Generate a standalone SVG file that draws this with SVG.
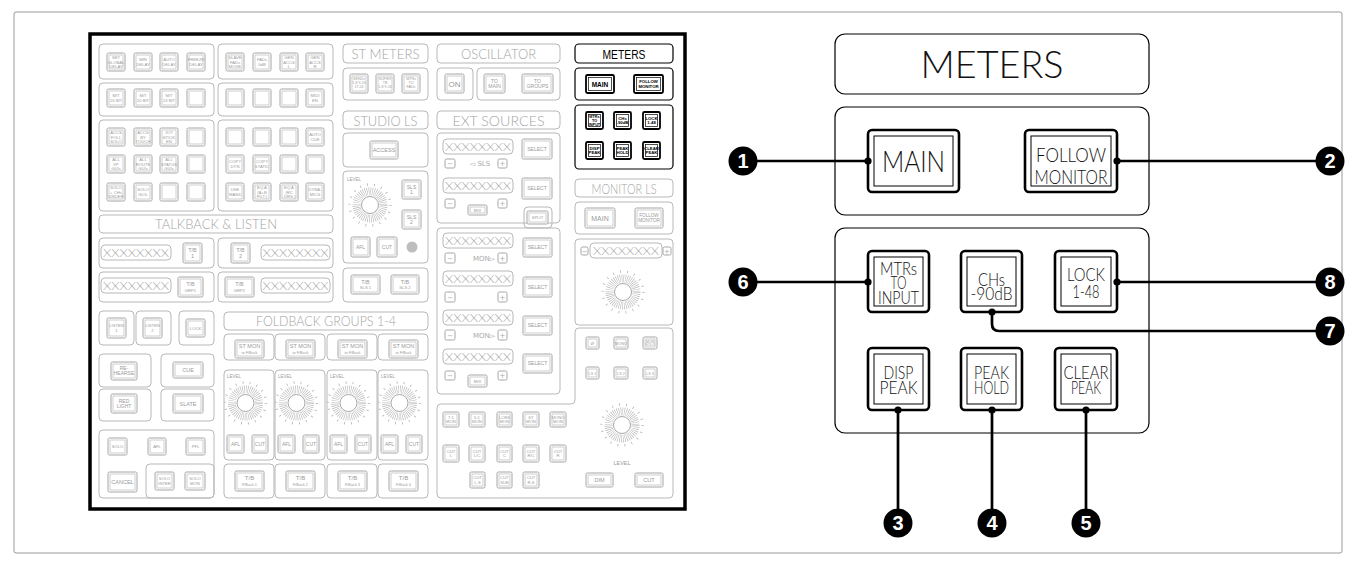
<svg xmlns="http://www.w3.org/2000/svg" width="1356" height="572" viewBox="0 0 1356 572">
<style>
.bx{fill:none;stroke:#b8b8b8;stroke-width:1;rx:4px}
.bo{fill:#fff;stroke:#a6a6a6;stroke-width:1;rx:1.5px}
.bi{fill:none;stroke:#c4c4c4;stroke-width:.8}
.t{font-family:"Liberation Sans",Arial,sans-serif;font-size:4.2px;fill:#9a9a9a;text-anchor:middle}
.tm{font-family:"Liberation Sans",Arial,sans-serif;font-size:5.5px;fill:#9a9a9a;text-anchor:middle}
.ttl{font-family:Lato,"Liberation Sans",Arial,sans-serif;font-weight:300;font-size:13.5px;fill:#a4a4a4;text-anchor:middle}
.disp{fill:#fff;stroke:#b8b8b8;stroke-width:1;rx:4px}
.xx{font-family:Lato,"Liberation Sans",Arial,sans-serif;font-weight:300;font-size:12.5px;fill:#a4a4a4;text-anchor:middle}
.sym{font-family:"DejaVu Sans","Liberation Sans",sans-serif;font-size:7px;fill:#aaa;text-anchor:middle}
.lv{font-family:"Liberation Sans",Arial,sans-serif;font-size:4.5px;fill:#a0a0a0}
.hb{fill:none;stroke:#000;stroke-width:1.2;rx:4px}
.ho{fill:#fff;stroke:#000;stroke-width:1.8;rx:1.5px}
.hi{fill:none;stroke:#000;stroke-width:.7}
.ht{font-family:"Liberation Sans",Arial,sans-serif;font-size:4.3px;fill:#000;text-anchor:middle;font-weight:bold}
.rb{fill:none;stroke:#000;stroke-width:1.2;rx:10px}
.ro{fill:#fff;stroke:#000;stroke-width:2.6;rx:4px}
.ri{fill:none;stroke:#000;stroke-width:1}
.rt{font-family:Lato,"Liberation Sans",Arial,sans-serif;font-weight:300;fill:#111;text-anchor:middle}
.ln{fill:none;stroke:#000;stroke-width:2.7}
.dot{fill:#000}
.bdg circle{fill:#000}
.bdg text{font-family:"Liberation Sans",Arial,sans-serif;font-weight:bold;font-size:20px;fill:#fff;text-anchor:middle}
</style>
<defs>
<g id="knob">
<circle r="20.5" fill="none" stroke="#b2b2b2" stroke-width="2.5" stroke-dasharray="0.8 6.36"/>
<circle r="13.5" fill="none" stroke="#b2b2b2" stroke-width="8" stroke-dasharray="0.55 1.22"/>
<circle r="8.5" fill="#fff" stroke="#a8a8a8" stroke-width="1"/>
</g>
</defs>
<rect x="14" y="12" width="1328" height="541" fill="#fff" stroke="#999" stroke-width="1" rx="2"/>

<g id="console-panel">
<rect x="90" y="34" width="595" height="475" fill="#fff" stroke="#000" stroke-width="3.5"/>

<g id="assign-section">
<rect class="bx" x="99" y="44" width="115" height="35"/><rect class="bx" x="218" y="44" width="115" height="35"/>
<rect class="bx" x="99" y="83" width="115" height="33"/><rect class="bx" x="218" y="83" width="115" height="33"/>
<rect class="bx" x="99" y="120" width="115" height="91"/><rect class="bx" x="218" y="120" width="115" height="91"/>
<rect class="bo" x="107" y="53" width="18" height="18"/><rect class="bi" x="109" y="55" width="14" height="14"/>
<rect class="bo" x="134" y="53" width="18" height="18"/><rect class="bi" x="136" y="55" width="14" height="14"/>
<rect class="bo" x="160" y="53" width="18" height="18"/><rect class="bi" x="162" y="55" width="14" height="14"/>
<rect class="bo" x="187" y="53" width="18" height="18"/><rect class="bi" x="189" y="55" width="14" height="14"/>
<rect class="bo" x="226" y="53" width="18" height="18"/><rect class="bi" x="228" y="55" width="14" height="14"/>
<rect class="bo" x="253" y="53" width="18" height="18"/><rect class="bi" x="255" y="55" width="14" height="14"/>
<rect class="bo" x="280" y="53" width="18" height="18"/><rect class="bi" x="282" y="55" width="14" height="14"/>
<rect class="bo" x="306" y="53" width="18" height="18"/><rect class="bi" x="308" y="55" width="14" height="14"/>
<text class="t" y="59"><tspan x="116">SET</tspan><tspan x="116" dy="4.5">GLOBAL</tspan><tspan x="116" dy="4.5">DELAY</tspan></text>
<text class="t" y="61.25"><tspan x="143">MIN</tspan><tspan x="143" dy="4.5">DELAY</tspan></text>
<text class="t" y="61.25"><tspan x="169">AUTO</tspan><tspan x="169" dy="4.5">DELAY</tspan></text>
<text class="t" y="61.25"><tspan x="196">FREEZE</tspan><tspan x="196" dy="4.5">DELAY</tspan></text>
<text class="t" y="59"><tspan x="235">SLAVE</tspan><tspan x="235" dy="4.5">FADs</tspan><tspan x="235" dy="4.5">MOVE</tspan></text>
<text class="t" y="61.25"><tspan x="262">FADs</tspan><tspan x="262" dy="4.5">0dB</tspan></text>
<text class="t" y="59"><tspan x="289">GEN</tspan><tspan x="289" dy="4.5">ACCS</tspan><tspan x="289" dy="4.5">L</tspan></text>
<text class="t" y="59"><tspan x="315">GEN</tspan><tspan x="315" dy="4.5">ACCS</tspan><tspan x="315" dy="4.5">R</tspan></text>
<rect class="bo" x="107" y="89" width="18" height="18"/><rect class="bi" x="109" y="91" width="14" height="14"/>
<rect class="bo" x="134" y="89" width="18" height="18"/><rect class="bi" x="136" y="91" width="14" height="14"/>
<rect class="bo" x="160" y="89" width="18" height="18"/><rect class="bi" x="162" y="91" width="14" height="14"/>
<rect class="bo" x="187" y="89" width="18" height="18"/><rect class="bi" x="189" y="91" width="14" height="14"/>
<rect class="bo" x="226" y="89" width="18" height="18"/><rect class="bi" x="228" y="91" width="14" height="14"/>
<rect class="bo" x="253" y="89" width="18" height="18"/><rect class="bi" x="255" y="91" width="14" height="14"/>
<rect class="bo" x="280" y="89" width="18" height="18"/><rect class="bi" x="282" y="91" width="14" height="14"/>
<rect class="bo" x="306" y="89" width="18" height="18"/><rect class="bi" x="308" y="91" width="14" height="14"/>
<text class="t" y="97.25"><tspan x="116">M/T</tspan><tspan x="116" dy="4.5">16 BIT</tspan></text>
<text class="t" y="97.25"><tspan x="143">M/T</tspan><tspan x="143" dy="4.5">20 BIT</tspan></text>
<text class="t" y="97.25"><tspan x="169">M/T</tspan><tspan x="169" dy="4.5">24 BIT</tspan></text>
<text class="t" y="97.25"><tspan x="315">MIDI</tspan><tspan x="315" dy="4.5">EN</tspan></text>
<rect class="bo" x="107" y="128" width="18" height="18"/><rect class="bi" x="109" y="130" width="14" height="14"/>
<rect class="bo" x="134" y="128" width="18" height="18"/><rect class="bi" x="136" y="130" width="14" height="14"/>
<rect class="bo" x="160" y="128" width="18" height="18"/><rect class="bi" x="162" y="130" width="14" height="14"/>
<rect class="bo" x="187" y="128" width="18" height="18"/><rect class="bi" x="189" y="130" width="14" height="14"/>
<rect class="bo" x="226" y="128" width="18" height="18"/><rect class="bi" x="228" y="130" width="14" height="14"/>
<rect class="bo" x="253" y="128" width="18" height="18"/><rect class="bi" x="255" y="130" width="14" height="14"/>
<rect class="bo" x="280" y="128" width="18" height="18"/><rect class="bi" x="282" y="130" width="14" height="14"/>
<rect class="bo" x="306" y="128" width="18" height="18"/><rect class="bi" x="308" y="130" width="14" height="14"/>
<text class="t" y="134"><tspan x="116">ACCS</tspan><tspan x="116" dy="4.5">FOLL</tspan><tspan x="116" dy="4.5">SOLO</tspan></text>
<text class="t" y="134"><tspan x="143">ACCS</tspan><tspan x="143" dy="4.5">BY</tspan><tspan x="143" dy="4.5">TOUCH</tspan></text>
<text class="t" y="134"><tspan x="169">JOY</tspan><tspan x="169" dy="4.5">STICK</tspan><tspan x="169" dy="4.5">EN</tspan></text>
<text class="t" y="136.25"><tspan x="315">AUTO</tspan><tspan x="315" dy="4.5">CUE</tspan></text>
<rect class="bo" x="107" y="155" width="18" height="18"/><rect class="bi" x="109" y="157" width="14" height="14"/>
<rect class="bo" x="134" y="155" width="18" height="18"/><rect class="bi" x="136" y="157" width="14" height="14"/>
<rect class="bo" x="160" y="155" width="18" height="18"/><rect class="bi" x="162" y="157" width="14" height="14"/>
<rect class="bo" x="187" y="155" width="18" height="18"/><rect class="bi" x="189" y="157" width="14" height="14"/>
<rect class="bo" x="226" y="155" width="18" height="18"/><rect class="bi" x="228" y="157" width="14" height="14"/>
<rect class="bo" x="253" y="155" width="18" height="18"/><rect class="bi" x="255" y="157" width="14" height="14"/>
<rect class="bo" x="280" y="155" width="18" height="18"/><rect class="bi" x="282" y="157" width="14" height="14"/>
<rect class="bo" x="306" y="155" width="18" height="18"/><rect class="bi" x="308" y="157" width="14" height="14"/>
<text class="t" y="161"><tspan x="116">ALL</tspan><tspan x="116" dy="4.5">I/P</tspan><tspan x="116" dy="4.5">GUIs</tspan></text>
<text class="t" y="161"><tspan x="143">ALL</tspan><tspan x="143" dy="4.5">ROUTE</tspan><tspan x="143" dy="4.5">GUIs</tspan></text>
<text class="t" y="161"><tspan x="169">ALL</tspan><tspan x="169" dy="4.5">STATUS</tspan><tspan x="169" dy="4.5">GUIs</tspan></text>
<text class="t" y="163.25"><tspan x="235">COPY</tspan><tspan x="235" dy="4.5">DYN</tspan></text>
<text class="t" y="163.25"><tspan x="262">COPY</tspan><tspan x="262" dy="4.5">STATIC</tspan></text>
<rect class="bo" x="107" y="183" width="18" height="18"/><rect class="bi" x="109" y="185" width="14" height="14"/>
<rect class="bo" x="134" y="183" width="18" height="18"/><rect class="bi" x="136" y="185" width="14" height="14"/>
<rect class="bo" x="160" y="183" width="18" height="18"/><rect class="bi" x="162" y="185" width="14" height="14"/>
<rect class="bo" x="187" y="183" width="18" height="18"/><rect class="bi" x="189" y="185" width="14" height="14"/>
<rect class="bo" x="226" y="183" width="18" height="18"/><rect class="bi" x="228" y="185" width="14" height="14"/>
<rect class="bo" x="253" y="183" width="18" height="18"/><rect class="bi" x="255" y="185" width="14" height="14"/>
<rect class="bo" x="280" y="183" width="18" height="18"/><rect class="bi" x="282" y="185" width="14" height="14"/>
<rect class="bo" x="306" y="183" width="18" height="18"/><rect class="bi" x="308" y="185" width="14" height="14"/>
<text class="t" y="189"><tspan x="116">SOLO</tspan><tspan x="116" dy="4.5">+ CHs</tspan><tspan x="116" dy="4.5">UNDER</tspan></text>
<text class="t" y="191.25"><tspan x="143">SOLO</tspan><tspan x="143" dy="4.5">ISOL</tspan></text>
<text class="t" y="191.25"><tspan x="235">USE</tspan><tspan x="235" dy="4.5">MASK</tspan></text>
<text class="t" y="189"><tspan x="262">EQ A</tspan><tspan x="262" dy="4.5">(A+B</tspan><tspan x="262" dy="4.5">FILT.)</tspan></text>
<text class="t" y="189"><tspan x="289">EQ A</tspan><tspan x="289" dy="4.5">(RC</tspan><tspan x="289" dy="4.5">-DRS.)</tspan></text>
<text class="t" y="191.25"><tspan x="315">DYNA-</tspan><tspan x="315" dy="4.5">MICS</tspan></text>
</g>

<g id="talkback-listen">
<rect class="bx" x="99" y="215" width="234" height="18"/>
<text class="ttl" x="216" y="229" textLength="122" lengthAdjust="spacingAndGlyphs">TALKBACK &amp; LISTEN</text>
<rect class="bx" x="99" y="238" width="115" height="30"/><rect class="bx" x="218" y="238" width="115" height="30"/>
<rect class="bx" x="99" y="272" width="115" height="30"/><rect class="bx" x="218" y="272" width="115" height="30"/>
<rect class="disp" x="101" y="245" width="70" height="15"/><text class="xx" x="136" y="257" textLength="66" lengthAdjust="spacingAndGlyphs">XXXXXXXX</text>
<rect class="disp" x="261" y="245" width="69" height="15"/><text class="xx" x="295.5" y="257" textLength="66" lengthAdjust="spacingAndGlyphs">XXXXXXXX</text>
<rect class="disp" x="101" y="278" width="70" height="15"/><text class="xx" x="136" y="290" textLength="66" lengthAdjust="spacingAndGlyphs">XXXXXXXX</text>
<rect class="disp" x="261" y="278" width="69" height="15"/><text class="xx" x="295.5" y="290" textLength="66" lengthAdjust="spacingAndGlyphs">XXXXXXXX</text>
<rect class="bo" x="183" y="243" width="19" height="20"/><rect class="bi" x="185" y="245" width="15" height="16"/>
<text class="tm" y="252"><tspan x="192.5">T/B</tspan><tspan x="192.5" dy="5.5">1</tspan></text>
<rect class="bo" x="231" y="243" width="19" height="20"/><rect class="bi" x="233" y="245" width="15" height="16"/>
<text class="tm" y="252"><tspan x="240.5">T/B</tspan><tspan x="240.5" dy="5.5">2</tspan></text>
<rect class="bo" x="178" y="277" width="25" height="20"/><rect class="bi" x="180" y="279" width="21" height="16"/>
<text class="tm" x="190.5" y="286">T/B</text><text class="t" x="190.5" y="291.5">GRP1</text>
<rect class="bo" x="225" y="277" width="29" height="20"/><rect class="bi" x="227" y="279" width="25" height="16"/>
<text class="tm" x="239.5" y="286">T/B</text><text class="t" x="239.5" y="291.5">GRP2</text>
<rect class="bx" x="99" y="311" width="35" height="34"/><rect class="bx" x="136" y="311" width="35" height="34"/><rect class="bx" x="179" y="311" width="35" height="34"/>
<rect class="bo" x="107" y="318" width="19" height="20"/><rect class="bi" x="109" y="320" width="15" height="16"/>
<text class="t" y="327"><tspan x="116.5">LISTEN</tspan><tspan x="116.5" dy="5">1</tspan></text>
<rect class="bo" x="143" y="318" width="19" height="20"/><rect class="bi" x="145" y="320" width="15" height="16"/>
<text class="t" y="327"><tspan x="152.5">LISTEN</tspan><tspan x="152.5" dy="5">2</tspan></text>
<rect class="bo" x="186" y="319" width="19" height="18"/><rect class="bi" x="188" y="321" width="15" height="14"/>
<text class="t" x="195.5" y="329.5">LOCK</text>
</g>

<g id="rehearse-solo">
<rect class="bx" x="99" y="354" width="52" height="33"/><rect class="bx" x="161" y="354" width="53" height="33"/>
<rect class="bx" x="99" y="389" width="52" height="32"/><rect class="bx" x="161" y="389" width="53" height="32"/>
<rect class="bo" x="111" y="362" width="26" height="18"/><rect class="bi" x="113" y="364" width="22" height="14"/>
<text class="t" style="font-size:5px" y="369.5"><tspan x="124">RE-</tspan><tspan x="124" dy="5.5">HEARSE</tspan></text>
<rect class="bo" x="173" y="362" width="30" height="16"/><rect class="bi" x="175" y="364" width="26" height="12"/>
<text class="tm" x="188" y="372">CUE</text>
<rect class="bo" x="111" y="394" width="26" height="19"/><rect class="bi" x="113" y="396" width="22" height="15"/>
<text class="t" style="font-size:5px" y="402.5"><tspan x="124">RED</tspan><tspan x="124" dy="5.5">LIGHT</tspan></text>
<rect class="bo" x="173" y="394" width="30" height="19"/><rect class="bi" x="175" y="396" width="26" height="15"/>
<text class="tm" x="188" y="405.5">SLATE</text>
<rect class="bx" x="99" y="430" width="115" height="68"/><rect class="bx" x="146" y="464" width="68" height="34"/>
<rect class="bo" x="108" y="438" width="19" height="17"/><rect class="bi" x="110" y="440" width="15" height="13"/>
<text class="t" x="117.5" y="448">SOLO</text>
<rect class="bo" x="148" y="438" width="18" height="17"/><rect class="bi" x="150" y="440" width="14" height="13"/>
<text class="t" x="157" y="448">AFL</text>
<rect class="bo" x="186" y="438" width="19" height="17"/><rect class="bi" x="188" y="440" width="15" height="13"/>
<text class="t" x="195.5" y="448">PFL</text>
<rect class="bo" x="108" y="472" width="29" height="20"/><rect class="bi" x="110" y="474" width="25" height="16"/>
<text class="tm" x="122.5" y="484">CANCEL</text>
<rect class="bo" x="155" y="472" width="19" height="18"/><rect class="bi" x="157" y="474" width="15" height="14"/>
<text class="t" y="480"><tspan x="164.5">SOLO</tspan><tspan x="164.5" dy="5">INTER</tspan></text>
<rect class="bo" x="185" y="472" width="20" height="18"/><rect class="bi" x="187" y="474" width="16" height="14"/>
<text class="t" y="480"><tspan x="195">SOLO</tspan><tspan x="195" dy="5">MON</tspan></text>
</g>

<g id="foldback-groups">
<rect class="bx" x="224" y="312" width="204" height="18"/>
<text class="ttl" x="326" y="326" textLength="140" lengthAdjust="spacingAndGlyphs">FOLDBACK GROUPS 1-4</text>
<rect class="bx" x="224" y="334" width="50" height="26"/>
<rect class="bo" x="235" y="340" width="29" height="18"/><rect class="bi" x="237" y="342" width="25" height="14"/>
<text class="t" style="font-size:5.5px" x="249.5" y="348">ST MON</text><text class="t" style="font-size:3.8px" x="249.5" y="353.5">to F/Back</text>
<rect class="bx" x="224" y="370" width="50" height="90"/>
<text class="lv" x="227" y="378">LEVEL</text>
<use href="#knob" x="245.5" y="403"/>
<rect class="bo" x="227" y="435" width="17" height="18"/><rect class="bi" x="229" y="437" width="13" height="14"/><text class="t" style="font-size:5px" x="235.5" y="446">AFL</text>
<rect class="bo" x="252" y="435" width="16" height="18"/><rect class="bi" x="254" y="437" width="12" height="14"/><text class="t" style="font-size:5px" x="260" y="446">CUT</text>
<rect class="bx" x="224" y="464" width="50" height="34"/>
<rect class="bo" x="235" y="471" width="29" height="20"/><rect class="bi" x="237" y="473" width="25" height="16"/>
<text class="t" style="font-size:6px" x="249.5" y="480">T/B</text><text class="t" style="font-size:3.8px" x="249.5" y="486">F/Back 1</text>
<rect class="bx" x="275" y="334" width="50" height="26"/>
<rect class="bo" x="286" y="340" width="29" height="18"/><rect class="bi" x="288" y="342" width="25" height="14"/>
<text class="t" style="font-size:5.5px" x="300.5" y="348">ST MON</text><text class="t" style="font-size:3.8px" x="300.5" y="353.5">to F/Back</text>
<rect class="bx" x="275" y="370" width="50" height="90"/>
<text class="lv" x="278" y="378">LEVEL</text>
<use href="#knob" x="296.5" y="403"/>
<rect class="bo" x="278" y="435" width="17" height="18"/><rect class="bi" x="280" y="437" width="13" height="14"/><text class="t" style="font-size:5px" x="286.5" y="446">AFL</text>
<rect class="bo" x="303" y="435" width="16" height="18"/><rect class="bi" x="305" y="437" width="12" height="14"/><text class="t" style="font-size:5px" x="311" y="446">CUT</text>
<rect class="bx" x="275" y="464" width="50" height="34"/>
<rect class="bo" x="286" y="471" width="29" height="20"/><rect class="bi" x="288" y="473" width="25" height="16"/>
<text class="t" style="font-size:6px" x="300.5" y="480">T/B</text><text class="t" style="font-size:3.8px" x="300.5" y="486">F/Back 2</text>
<rect class="bx" x="327" y="334" width="50" height="26"/>
<rect class="bo" x="338" y="340" width="29" height="18"/><rect class="bi" x="340" y="342" width="25" height="14"/>
<text class="t" style="font-size:5.5px" x="352.5" y="348">ST MON</text><text class="t" style="font-size:3.8px" x="352.5" y="353.5">to F/Back</text>
<rect class="bx" x="327" y="370" width="50" height="90"/>
<text class="lv" x="330" y="378">LEVEL</text>
<use href="#knob" x="348.5" y="403"/>
<rect class="bo" x="330" y="435" width="17" height="18"/><rect class="bi" x="332" y="437" width="13" height="14"/><text class="t" style="font-size:5px" x="338.5" y="446">AFL</text>
<rect class="bo" x="355" y="435" width="16" height="18"/><rect class="bi" x="357" y="437" width="12" height="14"/><text class="t" style="font-size:5px" x="363" y="446">CUT</text>
<rect class="bx" x="327" y="464" width="50" height="34"/>
<rect class="bo" x="338" y="471" width="29" height="20"/><rect class="bi" x="340" y="473" width="25" height="16"/>
<text class="t" style="font-size:6px" x="352.5" y="480">T/B</text><text class="t" style="font-size:3.8px" x="352.5" y="486">F/Back 3</text>
<rect class="bx" x="378" y="334" width="50" height="26"/>
<rect class="bo" x="389" y="340" width="29" height="18"/><rect class="bi" x="391" y="342" width="25" height="14"/>
<text class="t" style="font-size:5.5px" x="403.5" y="348">ST MON</text><text class="t" style="font-size:3.8px" x="403.5" y="353.5">to F/Back</text>
<rect class="bx" x="378" y="370" width="50" height="90"/>
<text class="lv" x="381" y="378">LEVEL</text>
<use href="#knob" x="399.5" y="403"/>
<rect class="bo" x="381" y="435" width="17" height="18"/><rect class="bi" x="383" y="437" width="13" height="14"/><text class="t" style="font-size:5px" x="389.5" y="446">AFL</text>
<rect class="bo" x="406" y="435" width="16" height="18"/><rect class="bi" x="408" y="437" width="12" height="14"/><text class="t" style="font-size:5px" x="414" y="446">CUT</text>
<rect class="bx" x="378" y="464" width="50" height="34"/>
<rect class="bo" x="389" y="471" width="29" height="20"/><rect class="bi" x="391" y="473" width="25" height="16"/>
<text class="t" style="font-size:6px" x="403.5" y="480">T/B</text><text class="t" style="font-size:3.8px" x="403.5" y="486">F/Back 4</text>
</g>

<g id="st-meters-studio-ls">
<rect class="bx" x="343" y="44" width="85" height="19"/>
<text class="ttl" x="385.5" y="59" textLength="68" lengthAdjust="spacingAndGlyphs">ST METERS</text>
<rect class="bx" x="343" y="68" width="85" height="32"/>
<rect class="bo" x="350" y="74" width="18" height="19"/><rect class="bi" x="352" y="76" width="14" height="15"/>
<text class="t" style="font-size:3.6px" y="80"><tspan x="359">SENDs</tspan><tspan x="359" dy="4.2">1-8 9-16</tspan><tspan x="359" dy="4.2">17-24</tspan></text>
<rect class="bo" x="376" y="74" width="18" height="19"/><rect class="bi" x="378" y="76" width="14" height="15"/>
<text class="t" style="font-size:3.6px" y="80"><tspan x="385">SUPER</tspan><tspan x="385" dy="4.2">TB</tspan><tspan x="385" dy="4.2">1-8 9-16</tspan></text>
<rect class="bo" x="402" y="74" width="18" height="19"/><rect class="bi" x="404" y="76" width="14" height="15"/>
<text class="t" style="font-size:3.6px" y="80"><tspan x="411">MTRs</tspan><tspan x="411" dy="4.2">TO</tspan><tspan x="411" dy="4.2">FADs</tspan></text>
<rect class="bx" x="343" y="111" width="85" height="18"/>
<text class="ttl" x="385.5" y="126" textLength="64" lengthAdjust="spacingAndGlyphs">STUDIO LS</text>
<rect class="bx" x="343" y="133" width="85" height="34"/>
<rect class="bo" x="370" y="141" width="28" height="18"/><rect class="bi" x="372" y="143" width="24" height="14"/>
<text class="tm" x="384" y="152">ACCESS</text>
<rect class="bx" x="343" y="171" width="85" height="92"/>
<text class="lv" x="347" y="181">LEVEL</text>
<use href="#knob" x="370" y="205"/>
<rect class="bo" x="402" y="180" width="19" height="19"/><rect class="bi" x="404" y="182" width="15" height="15"/>
<text class="t" style="font-size:5px" y="188.5"><tspan x="411.5">SLS</tspan><tspan x="411.5" dy="5.5">1</tspan></text>
<rect class="bo" x="402" y="210" width="19" height="19"/><rect class="bi" x="404" y="212" width="15" height="15"/>
<text class="t" style="font-size:5px" y="218.5"><tspan x="411.5">SLS</tspan><tspan x="411.5" dy="5.5">2</tspan></text>
<rect class="bo" x="351" y="237" width="19" height="20"/><rect class="bi" x="353" y="239" width="15" height="16"/>
<text class="t" style="font-size:5px" x="360.5" y="249">AFL</text>
<rect class="bo" x="377" y="237" width="20" height="20"/><rect class="bi" x="379" y="239" width="16" height="16"/>
<text class="t" style="font-size:5px" x="387" y="249">CUT</text>
<circle cx="412" cy="247" r="5.5" fill="#bdbdbd"/>
<rect class="bx" x="343" y="268" width="85" height="34"/>
<rect class="bo" x="351" y="275" width="29" height="19"/><rect class="bi" x="353" y="277" width="25" height="15"/>
<text class="tm" x="365.5" y="283.5">T/B</text><text class="t" x="365.5" y="289">SLS 1</text>
<rect class="bo" x="391" y="275" width="28" height="19"/><rect class="bi" x="393" y="277" width="24" height="15"/>
<text class="tm" x="405" y="283.5">T/B</text><text class="t" x="405" y="289">SLS 2</text>
</g>

<g id="oscillator-ext-sources">
<rect class="bx" x="437" y="44" width="123" height="19"/>
<text class="ttl" x="498.5" y="59" textLength="75" lengthAdjust="spacingAndGlyphs">OSCILLATOR</text>
<rect class="bx" x="437" y="68" width="36" height="32"/>
<rect class="bo" x="445" y="74" width="19" height="19"/><rect class="bi" x="447" y="76" width="15" height="15"/>
<text class="t" style="font-size:8px" x="454.5" y="86.5">ON</text>
<rect class="bx" x="477" y="68" width="83" height="32"/>
<rect class="bo" x="484" y="74" width="21" height="19"/><rect class="bi" x="486" y="76" width="17" height="15"/>
<text class="t" style="font-size:5px" y="82.5"><tspan x="494.5">TO</tspan><tspan x="494.5" dy="5">MAIN</tspan></text>
<rect class="bo" x="522" y="74" width="31" height="19"/><rect class="bi" x="524" y="76" width="27" height="15"/>
<text class="t" style="font-size:5px" y="82.5"><tspan x="537.5">TO</tspan><tspan x="537.5" dy="5">GROUPS</tspan></text>
<rect class="bx" x="437" y="111" width="123" height="18"/>
<text class="ttl" x="498.5" y="126" textLength="92" lengthAdjust="spacingAndGlyphs">EXT SOURCES</text>
<rect class="bx" x="437" y="133" width="123" height="90"/>
<rect class="bx" x="524" y="207" width="28" height="21"/>
<rect class="disp" x="443" y="139" width="70" height="15"/><text class="xx" x="478" y="151" textLength="66" lengthAdjust="spacingAndGlyphs">XXXXXXXX</text>
<rect class="bo" x="522" y="139" width="30" height="20"/><rect class="bi" x="524" y="141" width="26" height="16"/><text class="t" style="font-size:5px" x="537" y="150.5">SELECT</text>
<rect class="bo" x="445" y="159" width="10" height="9"/><text class="sym" x="450" y="166">−</text>
<text class="sym" x="480" y="166">◅ SLS</text>
<rect class="bo" x="498" y="159" width="9" height="9"/><text class="sym" x="502.5" y="166">+</text>
<rect class="disp" x="443" y="178" width="70" height="15"/><text class="xx" x="478" y="190" textLength="66" lengthAdjust="spacingAndGlyphs">XXXXXXXX</text>
<rect class="bo" x="522" y="178" width="30" height="21"/><rect class="bi" x="524" y="180" width="26" height="17"/><text class="t" style="font-size:5px" x="537" y="190">SELECT</text>
<rect class="bo" x="445" y="199" width="10" height="9"/><text class="sym" x="450" y="206">−</text>
<rect class="bo" x="468" y="205" width="19" height="10"/><rect class="bi" x="470" y="207" width="15" height="6"/><text class="t" x="477.5" y="211.5">MIX</text>
<rect class="bo" x="498" y="199" width="9" height="9"/><text class="sym" x="502.5" y="206">+</text>
<rect class="bo" x="527" y="211" width="21" height="13"/><rect class="bi" x="529" y="213" width="17" height="9"/><text class="t" x="537.5" y="219">SPLIT</text>

<rect class="bx" x="437" y="228" width="123" height="166"/>
<rect class="disp" x="443" y="233" width="70" height="15"/><text class="xx" x="478" y="245" textLength="66" lengthAdjust="spacingAndGlyphs">XXXXXXXX</text>
<rect class="bo" x="523" y="238" width="29" height="19"/><rect class="bi" x="525" y="240" width="25" height="15"/><text class="t" style="font-size:5px" x="537.5" y="249">SELECT</text>
<rect class="bo" x="445" y="253" width="10" height="10"/><text class="sym" x="450" y="260.5">−</text>
<text class="sym" x="484" y="261">MON▻</text>
<rect class="bo" x="498" y="253" width="9" height="10"/><text class="sym" x="502.5" y="260.5">+</text>
<rect class="disp" x="443" y="271" width="70" height="15"/><text class="xx" x="478" y="283" textLength="66" lengthAdjust="spacingAndGlyphs">XXXXXXXX</text>
<rect class="bo" x="523" y="277" width="29" height="20"/><rect class="bi" x="525" y="279" width="25" height="16"/><text class="t" style="font-size:5px" x="537.5" y="288.5">SELECT</text>
<rect class="bo" x="445" y="292" width="10" height="10"/><text class="sym" x="450" y="299.5">−</text>
<rect class="bo" x="498" y="292" width="9" height="10"/><text class="sym" x="502.5" y="299.5">+</text>
<rect class="disp" x="443" y="310" width="70" height="15"/><text class="xx" x="478" y="322" textLength="66" lengthAdjust="spacingAndGlyphs">XXXXXXXX</text>
<rect class="bo" x="523" y="316" width="29" height="19"/><rect class="bi" x="525" y="318" width="25" height="15"/><text class="t" style="font-size:5px" x="537.5" y="327">SELECT</text>
<rect class="bo" x="445" y="330" width="10" height="10"/><text class="sym" x="450" y="337.5">−</text>
<text class="sym" x="484" y="338">MON▻</text>
<rect class="bo" x="498" y="330" width="9" height="10"/><text class="sym" x="502.5" y="337.5">+</text>
<rect class="disp" x="443" y="349" width="70" height="15"/><text class="xx" x="478" y="361" textLength="66" lengthAdjust="spacingAndGlyphs">XXXXXXXX</text>
<rect class="bo" x="523" y="354" width="29" height="19"/><rect class="bi" x="525" y="356" width="25" height="15"/><text class="t" style="font-size:5px" x="537.5" y="365">SELECT</text>
<rect class="bo" x="445" y="371" width="10" height="9"/><text class="sym" x="450" y="378">−</text>
<rect class="bo" x="468" y="375" width="19" height="12"/><rect class="bi" x="470" y="377" width="15" height="8"/><text class="t" x="477.5" y="382.5">MIX</text>
<rect class="bo" x="498" y="371" width="9" height="9"/><text class="sym" x="502.5" y="378">+</text>
</g>

<g id="monitor-section">
<path class="bx" d="M441,404 H571 Q575,404 575,400 V332 Q575,328 579,328 H669 Q673,328 673,332 V494 Q673,498 669,498 H441 Q437,498 437,494 V408 Q437,404 441,404 Z"/>
<rect class="bo" x="443" y="412" width="16" height="15"/><rect class="bi" x="445" y="414" width="12" height="11"/>
<text class="t" y="418.5"><tspan x="451">7.1</tspan><tspan x="451" dy="4.5">MON</tspan></text>
<rect class="bo" x="469" y="412" width="16" height="15"/><rect class="bi" x="471" y="414" width="12" height="11"/>
<text class="t" y="418.5"><tspan x="477">5.1</tspan><tspan x="477" dy="4.5">MON</tspan></text>
<rect class="bo" x="497" y="412" width="15" height="15"/><rect class="bi" x="499" y="414" width="11" height="11"/>
<text class="t" y="418.5"><tspan x="504.5">LCRS</tspan><tspan x="504.5" dy="4.5">MON</tspan></text>
<rect class="bo" x="523" y="412" width="16" height="15"/><rect class="bi" x="525" y="414" width="12" height="11"/>
<text class="t" y="418.5"><tspan x="531">ST</tspan><tspan x="531" dy="4.5">MON</tspan></text>
<rect class="bo" x="550" y="412" width="16" height="15"/><rect class="bi" x="552" y="414" width="12" height="11"/>
<text class="t" y="418.5"><tspan x="558">MONO</tspan><tspan x="558" dy="4.5">MON</tspan></text>
<rect class="bo" x="443" y="445" width="16" height="17"/><rect class="bi" x="445" y="447" width="12" height="13"/>
<text class="t" y="452.5"><tspan x="451">CUT</tspan><tspan x="451" dy="4.5">L</tspan></text>
<rect class="bo" x="469" y="445" width="16" height="17"/><rect class="bi" x="471" y="447" width="12" height="13"/>
<text class="t" y="452.5"><tspan x="477">CUT</tspan><tspan x="477" dy="4.5">L/C</tspan></text>
<rect class="bo" x="497" y="445" width="15" height="17"/><rect class="bi" x="499" y="447" width="11" height="13"/>
<text class="t" y="452.5"><tspan x="504.5">CUT</tspan><tspan x="504.5" dy="4.5">C</tspan></text>
<rect class="bo" x="523" y="445" width="16" height="17"/><rect class="bi" x="525" y="447" width="12" height="13"/>
<text class="t" y="452.5"><tspan x="531">CUT</tspan><tspan x="531" dy="4.5">R/C</tspan></text>
<rect class="bo" x="550" y="445" width="16" height="17"/><rect class="bi" x="552" y="447" width="12" height="13"/>
<text class="t" y="452.5"><tspan x="558">CUT</tspan><tspan x="558" dy="4.5">R</tspan></text>
<rect class="bo" x="470" y="472" width="15" height="16"/><rect class="bi" x="472" y="474" width="11" height="12"/>
<text class="t" y="479"><tspan x="477.5">CUT</tspan><tspan x="477.5" dy="4.5">L-S</tspan></text>
<rect class="bo" x="497" y="472" width="15" height="16"/><rect class="bi" x="499" y="474" width="11" height="12"/>
<text class="t" y="479"><tspan x="504.5">CUT</tspan><tspan x="504.5" dy="4.5">SUB</tspan></text>
<rect class="bo" x="523" y="472" width="16" height="16"/><rect class="bi" x="525" y="474" width="12" height="12"/>
<text class="t" y="479"><tspan x="531">CUT</tspan><tspan x="531" dy="4.5">R-S</tspan></text>

<rect class="bx" x="575" y="179" width="98" height="18"/>
<text class="ttl" x="624" y="194" textLength="65" lengthAdjust="spacingAndGlyphs">MONITOR LS</text>
<rect class="bx" x="575" y="202" width="98" height="32"/>
<rect class="bo" x="585" y="208" width="30" height="20"/><rect class="bi" x="587" y="210" width="26" height="16"/>
<text class="t" style="font-size:7px" x="600" y="220.5">MAIN</text>
<rect class="bo" x="635" y="208" width="28" height="20"/><rect class="bi" x="637" y="210" width="24" height="16"/>
<text class="t" style="font-size:4.6px" y="217"><tspan x="649">FOLLOW</tspan><tspan x="649" dy="5">MONITOR</tspan></text>
<rect class="bx" x="575" y="239" width="98" height="86"/>
<rect class="bo" x="581" y="247" width="7" height="8"/><text class="sym" x="584.5" y="253.5">−</text>
<rect class="disp" x="590" y="243" width="72" height="15"/><text class="xx" x="626" y="255" textLength="66" lengthAdjust="spacingAndGlyphs">XXXXXXXX</text>
<rect class="bo" x="663" y="247" width="8" height="8"/><text class="sym" x="667" y="253.5">+</text>
<use href="#knob" x="623" y="292"/>
<rect class="bo" x="586" y="337" width="13" height="12"/><rect class="bi" x="588" y="339" width="9" height="8"/><text class="t" x="592.5" y="344.5">Ø</text>
<rect class="bo" x="614" y="337" width="14" height="12"/><rect class="bi" x="616" y="339" width="10" height="8"/><text class="t" style="font-size:3.8px" x="621" y="344.5">MONO</text>
<rect class="bo" x="643" y="337" width="14" height="12"/><rect class="bi" x="645" y="339" width="10" height="8"/>
<text class="t" style="font-size:3.6px" y="342.5"><tspan x="650">MON</tspan><tspan x="650" dy="3.8">SOLO</tspan></text>
<rect class="bo" x="586" y="367" width="13" height="12"/><rect class="bi" x="588" y="369" width="9" height="8"/><text class="t" style="font-size:3.8px" x="592.5" y="374.5">LS 1</text>
<rect class="bo" x="614" y="367" width="14" height="12"/><rect class="bi" x="616" y="369" width="10" height="8"/><text class="t" style="font-size:3.8px" x="621" y="374.5">LS 2</text>
<rect class="bo" x="643" y="367" width="14" height="12"/><rect class="bi" x="645" y="369" width="10" height="8"/><text class="t" style="font-size:3.8px" x="650" y="374.5">LS 3</text>
<use href="#knob" x="622" y="425"/>
<text class="t" style="font-size:5.5px" x="622" y="465">LEVEL</text>
<rect class="bo" x="586" y="473" width="27" height="14"/><rect class="bi" x="588" y="475" width="23" height="10"/><text class="t" style="font-size:5.5px" x="599.5" y="482">DIM</text>
<rect class="bo" x="635" y="473" width="28" height="14"/><rect class="bi" x="637" y="475" width="24" height="10"/><text class="t" style="font-size:5.5px" x="649" y="482">CUT</text>
</g>

<g id="meters-highlight">
<rect class="hb" x="575" y="44" width="98" height="19"/>
<text x="624" y="58.5" font-family="Liberation Sans, Arial, sans-serif" font-size="12" fill="#000" text-anchor="middle" textLength="43" lengthAdjust="spacingAndGlyphs">METERS</text>
<rect class="hb" x="575" y="68" width="98" height="32"/>
<rect class="ho" x="586" y="75" width="28" height="18"/><rect class="hi" x="588.5" y="77.5" width="23" height="13"/>
<text class="ht" style="font-size:6.5px" x="600" y="86.5">MAIN</text>
<rect class="ho" x="634" y="75" width="29" height="18"/><rect class="hi" x="636.5" y="77.5" width="24" height="13"/>
<text class="ht" y="83"><tspan x="648.5">FOLLOW</tspan><tspan x="648.5" dy="5">MONITOR</tspan></text>
<rect class="hb" x="575" y="105" width="98" height="64"/>
<rect class="ho" x="586" y="112" width="17" height="17"/><rect class="hi" x="588.5" y="114.5" width="12" height="12"/>
<text class="ht" style="font-size:3.8px" y="117.8"><tspan x="594.5">MTRs</tspan><tspan x="594.5" dy="4">TO</tspan><tspan x="594.5" dy="4">INPUT</tspan></text>
<rect class="ho" x="614" y="112" width="17" height="17"/><rect class="hi" x="616.5" y="114.5" width="12" height="12"/>
<text class="ht" y="119.8"><tspan x="622.5">CHs</tspan><tspan x="622.5" dy="4.5">-90dB</tspan></text>
<rect class="ho" x="643" y="112" width="17" height="17"/><rect class="hi" x="645.5" y="114.5" width="12" height="12"/>
<text class="ht" y="119.8"><tspan x="651.5">LOCK</tspan><tspan x="651.5" dy="4.5">1-48</tspan></text>
<rect class="ho" x="586" y="142" width="17" height="17"/><rect class="hi" x="588.5" y="144.5" width="12" height="12"/>
<text class="ht" y="149.8"><tspan x="594.5">DISP</tspan><tspan x="594.5" dy="4.5">PEAK</tspan></text>
<rect class="ho" x="614" y="142" width="17" height="17"/><rect class="hi" x="616.5" y="144.5" width="12" height="12"/>
<text class="ht" y="149.8"><tspan x="622.5">PEAK</tspan><tspan x="622.5" dy="4.5">HOLD</tspan></text>
<rect class="ho" x="643" y="142" width="17" height="17"/><rect class="hi" x="645.5" y="144.5" width="12" height="12"/>
<text class="ht" y="149.8"><tspan x="651.5">CLEAR</tspan><tspan x="651.5" dy="4.5">PEAK</tspan></text>
</g>
</g>

<g id="meters-title">
<rect class="rb" x="835" y="34" width="314" height="60"/>
<text class="rt" x="992" y="78" font-size="38" textLength="143" lengthAdjust="spacingAndGlyphs">METERS</text>
</g>
<g id="meters-upper-panel"><rect class="rb" x="835" y="107" width="314" height="108"/></g>
<g id="meters-lower-panel"><rect class="rb" x="835" y="228" width="314" height="205"/></g>

<g id="btn-main">
<rect class="ro" x="868" y="130" width="91" height="62"/><rect class="ri" x="874" y="136" width="79" height="50"/>
<text class="rt" x="913.5" y="172" font-size="30" textLength="63" lengthAdjust="spacingAndGlyphs">MAIN</text>
</g>
<g id="btn-follow-monitor">
<rect class="ro" x="1025" y="130" width="92" height="62"/><rect class="ri" x="1031" y="136" width="80" height="50"/>
<text class="rt" x="1071" y="161.5" font-size="20" textLength="70" lengthAdjust="spacingAndGlyphs">FOLLOW</text>
<text class="rt" x="1071" y="183.5" font-size="20" textLength="73" lengthAdjust="spacingAndGlyphs">MONITOR</text>
</g>
<g id="btn-mtrs-to-input">
<rect class="ro" x="868" y="251" width="61" height="61"/><rect class="ri" x="874" y="257" width="49" height="49"/>
<text class="rt" x="898.5" y="274.5" font-size="17" textLength="37" lengthAdjust="spacingAndGlyphs">MTRs</text>
<text class="rt" x="898.5" y="288.5" font-size="17" textLength="16" lengthAdjust="spacingAndGlyphs">TO</text>
<text class="rt" x="898.5" y="303.5" font-size="17" textLength="41" lengthAdjust="spacingAndGlyphs">INPUT</text>
</g>
<g id="btn-chs-90db">
<rect class="ro" x="961" y="251" width="61" height="61"/><rect class="ri" x="967" y="257" width="49" height="49"/>
<text class="rt" x="991.5" y="285.5" font-size="17.5" textLength="27" lengthAdjust="spacingAndGlyphs">CHs</text>
<text class="rt" x="991.5" y="299.5" font-size="17" textLength="42" lengthAdjust="spacingAndGlyphs">-90dB</text>
</g>
<g id="btn-lock-1-48">
<rect class="ro" x="1055" y="251" width="62" height="61"/><rect class="ri" x="1061" y="257" width="50" height="49"/>
<text class="rt" x="1086" y="281" font-size="17.5" textLength="38" lengthAdjust="spacingAndGlyphs">LOCK</text>
<text class="rt" x="1086" y="297.5" font-size="17.5" textLength="27" lengthAdjust="spacingAndGlyphs">1-48</text>
</g>
<g id="btn-disp-peak">
<rect class="ro" x="868" y="348" width="61" height="62"/><rect class="ri" x="874" y="354" width="49" height="50"/>
<text class="rt" x="898.5" y="378.5" font-size="17.5" textLength="30" lengthAdjust="spacingAndGlyphs">DISP</text>
<text class="rt" x="898.5" y="393.5" font-size="17.5" textLength="38" lengthAdjust="spacingAndGlyphs">PEAK</text>
</g>
<g id="btn-peak-hold">
<rect class="ro" x="961" y="348" width="61" height="62"/><rect class="ri" x="967" y="354" width="49" height="50"/>
<text class="rt" x="991.5" y="378.5" font-size="17.5" textLength="35" lengthAdjust="spacingAndGlyphs">PEAK</text>
<text class="rt" x="991.5" y="393.5" font-size="17.5" textLength="35" lengthAdjust="spacingAndGlyphs">HOLD</text>
</g>
<g id="btn-clear-peak">
<rect class="ro" x="1055" y="348" width="62" height="62"/><rect class="ri" x="1061" y="354" width="50" height="50"/>
<text class="rt" x="1086" y="378.5" font-size="17.5" textLength="45" lengthAdjust="spacingAndGlyphs">CLEAR</text>
<text class="rt" x="1086" y="393.5" font-size="17.5" textLength="30" lengthAdjust="spacingAndGlyphs">PEAK</text>
</g>

<g id="connectors">
<line class="ln" x1="743" y1="161" x2="868" y2="161"/>
<line class="ln" x1="1117" y1="161" x2="1330" y2="161"/>
<line class="ln" x1="743" y1="282" x2="868" y2="282"/>
<line class="ln" x1="1117" y1="282" x2="1330" y2="282"/>
<path class="ln" d="M992,312 V324 Q992,331 999,331 H1330"/>
<line class="ln" x1="898" y1="410" x2="898" y2="523"/>
<line class="ln" x1="992" y1="410" x2="992" y2="523"/>
<line class="ln" x1="1086" y1="410" x2="1086" y2="523"/>
<circle class="dot" cx="868" cy="161" r="3.6"/>
<circle class="dot" cx="1117" cy="161" r="3.6"/>
<circle class="dot" cx="868" cy="282" r="3.6"/>
<circle class="dot" cx="1117" cy="282" r="3.6"/>
<circle class="dot" cx="992" cy="312" r="3.6"/>
<circle class="dot" cx="898" cy="410" r="3.6"/>
<circle class="dot" cx="992" cy="410" r="3.6"/>
<circle class="dot" cx="1086" cy="410" r="3.6"/>
</g>

<g id="badge-1" class="bdg"><circle cx="743" cy="161" r="14.5"/><text x="743" y="168">1</text></g>
<g id="badge-2" class="bdg"><circle cx="1330" cy="161" r="14.5"/><text x="1330" y="168">2</text></g>
<g id="badge-3" class="bdg"><circle cx="898" cy="523" r="14.5"/><text x="898" y="530">3</text></g>
<g id="badge-4" class="bdg"><circle cx="992" cy="523" r="14.5"/><text x="992" y="530">4</text></g>
<g id="badge-5" class="bdg"><circle cx="1086" cy="523" r="14.5"/><text x="1086" y="530">5</text></g>
<g id="badge-6" class="bdg"><circle cx="743" cy="282" r="14.5"/><text x="743" y="289">6</text></g>
<g id="badge-7" class="bdg"><circle cx="1330" cy="331" r="14.5"/><text x="1330" y="338">7</text></g>
<g id="badge-8" class="bdg"><circle cx="1330" cy="282" r="14.5"/><text x="1330" y="289">8</text></g>
</svg>
